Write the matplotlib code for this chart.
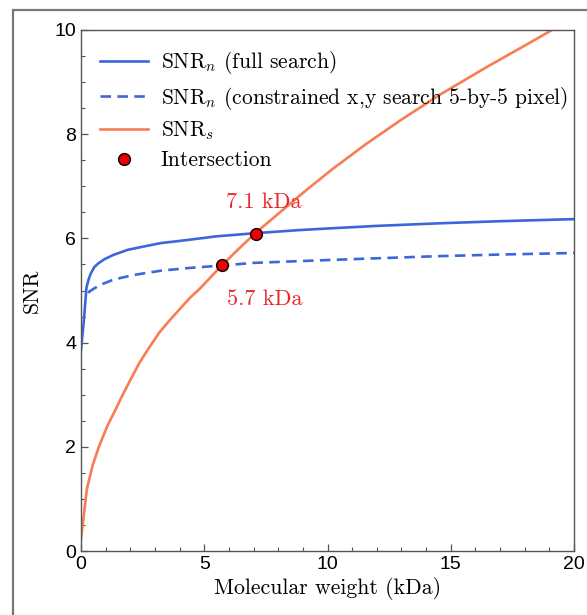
import numpy as np
import matplotlib
matplotlib.use('Agg')
from matplotlib import pyplot as plt
from matplotlib.patches import Rectangle

# values
x_full = [0.0, 0.12, 0.22, 0.30, 0.39, 0.54, 0.70, 0.95, 1.30, 1.89, 2.50, 3.24,
          4.33, 5.50, 7.07, 8.87, 10.0, 12.0, 14.55, 17.0, 20.0]
snr_full = [3.86, 4.44, 5.05, 5.20, 5.32, 5.45, 5.52, 5.60, 5.68, 5.78, 5.84, 5.91,
            5.97, 6.04, 6.10, 6.16, 6.19, 6.24, 6.29, 6.33, 6.37]

x_constr = [0.30, 0.34, 0.50, 0.68, 0.90, 1.22, 1.60, 2.16, 2.70, 3.24, 4.33,
            5.73, 7.00, 9.2, 11.5, 14.55, 17.0, 20.0]
snr_constr = [4.95, 4.98, 5.03, 5.08, 5.13, 5.19, 5.24, 5.30, 5.34, 5.38, 5.43,
              5.48, 5.53, 5.57, 5.61, 5.66, 5.69, 5.72]

x_s = [0.0, 0.24, 0.47, 0.74, 1.07, 1.48, 1.64, 2.02, 2.38, 2.80, 3.19, 3.60, 4.0,
       4.40, 4.81, 5.73, 6.40, 7.07, 8.87, 9.20, 10.2, 11.56, 13.0, 14.6, 16.5,
       18.0, 19.18, 20.0]
snr_s = [0.23, 1.19, 1.64, 2.02, 2.40, 2.79, 2.95, 3.30, 3.62, 3.93, 4.20, 4.43, 4.64,
         4.85, 5.03, 5.49, 5.80, 6.10, 6.82, 6.95, 7.33, 7.81, 8.28, 8.77, 9.30,
         9.70, 10.02, 10.23]

x_int = [7.1, 5.73]
snr_int = [6.09, 5.48]
int_labels = ['7.1 kDa', '5.7 kDa']

plt.rcParams['mathtext.fontset'] = 'cm'
plt.rcParams['axes.unicode_minus'] = False
serif = 'cmr10'

fig = plt.figure(figsize=(5.87, 6.15), dpi=100)
ax = fig.add_axes([81 / 587, 64 / 615, 493 / 587, 521 / 615])

# grey frame around the figure (only left and top edges visible)
fig.patches.append(Rectangle((12.5 / 587, -0.1), 1.2, (605 - (-61.5)) / 615,
                             transform=fig.transFigure, fill=False,
                             edgecolor='#777777', linewidth=1.6))

blue = '#3d66dc'
orange = '#f97c52'
ax.plot(x_full, snr_full, color=blue, lw=1.9, label='SNR$_n$ (full search)')
ax.plot(x_constr, snr_constr, color=blue, lw=1.9, dashes=(4, 2.4),
        label='SNR$_n$ (constrained x,y search 5-by-5 pixel)')
ax.plot(x_s, snr_s, color=orange, lw=1.9, label='SNR$_s$')
ax.plot(x_int, snr_int, 'o', color='#ee0000', mec='black', mew=1.0, ms=8.5,
        ls='none', label='Intersection', zorder=5)

ax.text(7.41, 6.70, int_labels[0], color='#e8262b', fontsize=16,
        family=serif, ha='center', va='center')
ax.text(7.46, 4.84, int_labels[1], color='#e8262b', fontsize=16,
        family=serif, ha='center', va='center')

ax.set_xlim(0, 20)
ax.set_ylim(0, 10)
ax.set_xticks([0, 5, 10, 15, 20])
ax.set_xticks(np.arange(0, 21, 1), minor=True)
ax.set_yticks([0, 2, 4, 6, 8, 10])
ax.set_yticks(np.arange(0, 10.01, 0.5), minor=True)
ax.tick_params(which='both', direction='in', top=False, right=False,
               colors='#555555', labelcolor='black', labelsize=14)
ax.tick_params(which='major', length=5, width=0.9)
ax.tick_params(which='minor', length=3, width=0.8)
for lab in ax.get_xticklabels() + ax.get_yticklabels():
    lab.set_family('Liberation Sans')
for sp in ax.spines.values():
    sp.set_color('#555555')
    sp.set_linewidth(1.0)

ax.set_xlabel('Molecular weight (kDa)', family=serif, fontsize=15.7, labelpad=3)
ax.set_ylabel('SNR', family=serif, fontsize=15.7, labelpad=9)

leg = ax.legend(loc='upper left', frameon=False, prop={'family': serif, 'size': 15.5},
                handlelength=2.2, handletextpad=0.6, labelspacing=0.38,
                borderaxespad=0.5)

plt.savefig('out.png', dpi=100)
